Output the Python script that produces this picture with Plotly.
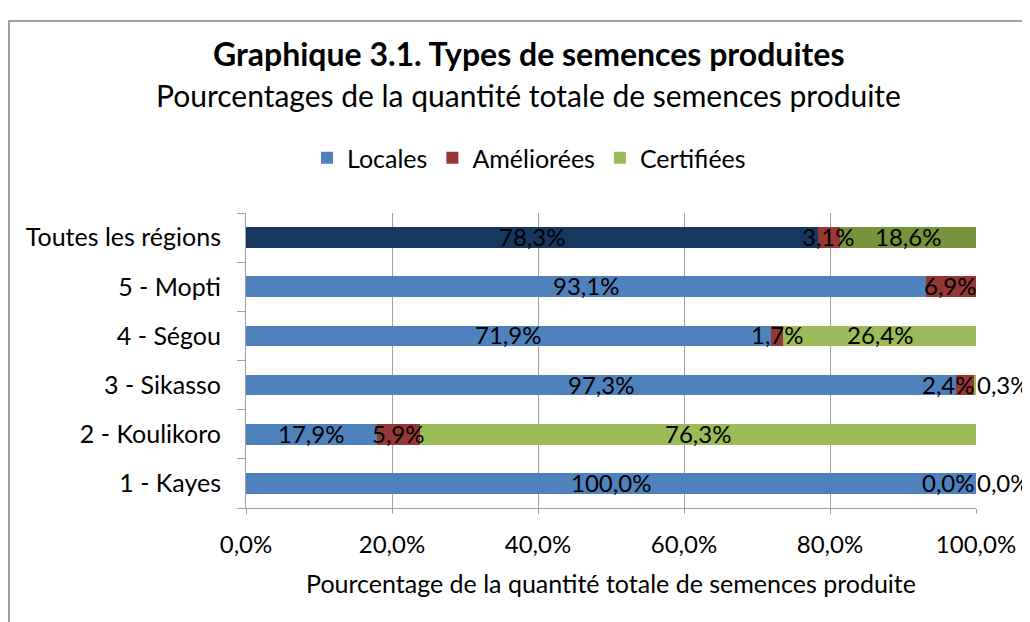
import plotly.graph_objects as go

# Data (percent of total seed quantity produced)
regions = ["1 - Kayes", "2 - Koulikoro", "3 - Sikasso", "4 - Ségou", "5 - Mopti", "Toutes les régions"]
locales = [100.0, 17.9, 97.3, 71.9, 93.1, 78.3]
ameliorees = [0.0, 5.9, 2.4, 1.7, 6.9, 3.1]
certifiees = [0.0, 76.3, 0.3, 26.4, None, 18.6]

series_names = ["Locales", "Améliorées", "Certifiées"]
x_ticks = [0, 20, 40, 60, 80, 100]

FONT = "Lato"
colors = ["#4f81bd", "#953735", "#9bbb59"]
colors_total = ["#17375e", "#953735", "#77933c"]

# plot area in figure pixels
L, T, W, H = 238, 205, 730, 295


def fmt(v):
    return f"{v:.1f}%".replace(".", ",")


fig = go.Figure()

series = [locales, ameliorees, certifiees]
left = [0.0] * len(regions)
for name, vals, c, ct in zip(series_names, series, colors, colors_total):
    bar_colors = [ct if r == "Toutes les régions" else c for r in regions]
    fig.add_trace(go.Bar(
        y=regions, x=vals, name=name, orientation="h",
        marker=dict(color=bar_colors, line=dict(width=0)),
        hoverinfo="skip",
    ))
    # data labels: centred in the segment, tiny end segments pushed aside
    for i, v in enumerate(vals):
        if v is None:
            continue
        end = left[i] + v
        if name != "Locales" and end >= 99.5 and v < 3:
            if name == "Améliorées":
                fig.add_annotation(x=100, y=regions[i], text=fmt(v), xanchor="right",
                                   showarrow=False, xshift=1)
            else:
                fig.add_annotation(x=100, y=regions[i], text=fmt(v), xanchor="left",
                                   showarrow=False, xshift=-1)
        else:
            fig.add_annotation(x=left[i] + v / 2, y=regions[i], text=fmt(v),
                               xanchor="center", showarrow=False)
        left[i] = end

fig.update_annotations(font=dict(family=FONT, size=24, color="black"), yshift=1)

fig.update_layout(
    barmode="stack",
    bargap=0.58,
    width=1030, height=622,
    margin=dict(l=L, r=1030 - L - W, t=T, b=622 - T - H),
    paper_bgcolor="white", plot_bgcolor="white",
    font=dict(family=FONT, size=24, color="black"),
    separators=", ",
    showlegend=True,
    legend=dict(orientation="h", x=(521 - L) / W, xanchor="center",
                y=1 + (T - 150) / H, yanchor="middle",
                font=dict(size=25), traceorder="normal", itemwidth=30),
    xaxis=dict(range=[0, 100], tickvals=x_ticks, ticktext=[fmt(t) for t in x_ticks],
               showgrid=True, gridcolor="#a0a0a0", gridwidth=1,
               showline=True, linecolor="#a0a0a0", ticks="outside", ticklen=5,
               tickcolor="#a0a0a0", zeroline=False, ticklabelstandoff=10,
               title=dict(text="Pourcentage de la quantité totale de semences produite",
                          font=dict(size=25), standoff=18)),
    yaxis=dict(categoryorder="array", categoryarray=regions,
               showline=True, linecolor="#a0a0a0", ticks="outside", ticklen=8,
               tickcolor="#a0a0a0", tickson="boundaries", showgrid=False,
               ticklabelstandoff=19, tickfont=dict(size=25)),
)

fig.add_annotation(text="<b>Graphique 3.1. Types de semences produites</b>",
                   xref="paper", yref="paper", x=(520 - L) / W, y=1 + (T - 45) / H,
                   showarrow=False, font=dict(family=FONT, size=32, color="black"),
                   yanchor="middle")
fig.add_annotation(text="Pourcentages de la quantité totale de semences produite",
                   xref="paper", yref="paper", x=(520 - L) / W, y=1 + (T - 87) / H,
                   showarrow=False, font=dict(family=FONT, size=30, color="black"),
                   yanchor="middle")

# outer chart border
fig.add_shape(type="rect", xref="paper", yref="paper",
              x0=(1 - L) / W, x1=(1045 - L) / W,
              y0=-(650 - T - H) / H, y1=1 + (T - 13) / H,
              line=dict(color="#a0a0a0", width=2), layer="below")

fig.write_html("out.html")
